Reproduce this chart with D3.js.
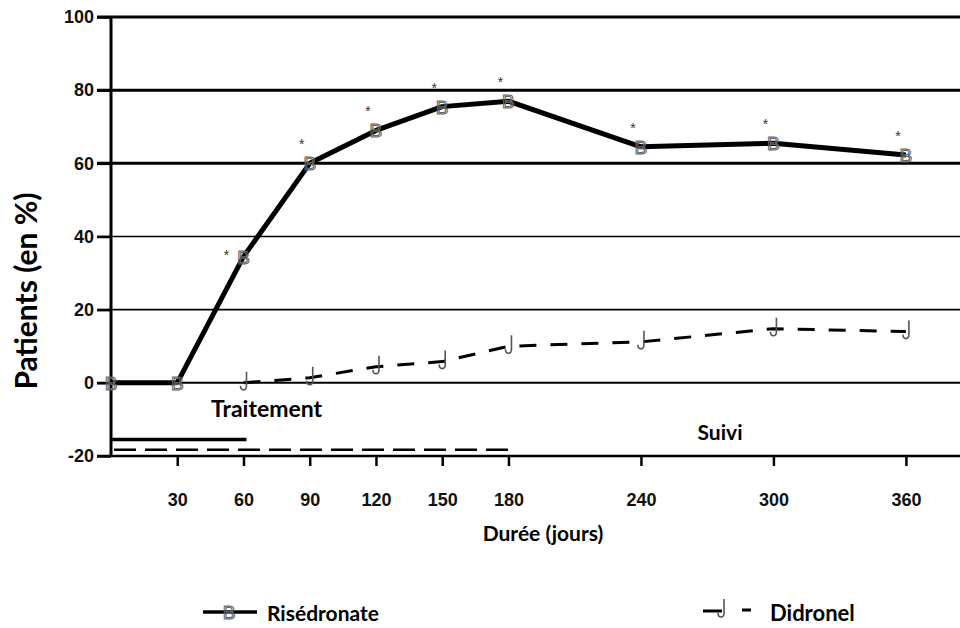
<!DOCTYPE html>
<html>
<head>
<meta charset="utf-8">
<script src="https://cdn.jsdelivr.net/npm/d3@7"></script>
<style>
  body { margin: 0; background: #fff; }
  svg { display: block; }
  .lbl { font-family: Lato, "Open Sans", sans-serif; font-weight: bold; fill: #000; }
</style>
</head>
<body>
<svg id="chart" width="960" height="628"></svg>
<script>
(function() {
    // jours
    var days = [0, 30, 60, 90, 120, 150, 180, 240, 300, 360];
    var risedronate = [0, 0, 34.5, 60, 69, 75.5, 77, 64.5, 65.5, 62.3];
    var starred = [false, false, true, true, true, true, true, true, true, true];
    var didronelDays = [60, 90, 120, 150, 180, 240, 300, 360];
    var didronel = [0, 1.4, 4.4, 5.8, 10, 11.2, 14.8, 14];
    var yTicks = [-20, 0, 20, 40, 60, 80, 100];
    var xTicks = [30, 60, 90, 120, 150, 180, 240, 300, 360];
    // periodes de traitement (jours)
    var treatRis = [0, 60];
    var treatDid = [0, 180];

    var svg = d3.select('#chart');
    var x = d3.scaleLinear().domain([0, 384.5]).range([111, 960]);
    var y = d3.scaleLinear().domain([-20, 100]).range([456, 17]);

    function tickText(sel) {
        sel.attr('fill', '#111')
            .style('font-family', '"Liberation Sans", Arial, sans-serif')
            .style('font-weight', 'bold')
            .style('font-size', '18px');
    }

    // lignes horizontales
    var grid = svg.append('g');
    yTicks.forEach(function(t) {
        if (t === -20) return;
        var w = t >= 60 ? 3 : (t === 0 ? 2 : 1.6);
        grid.append('line')
            .attr('x1', 97).attr('x2', 960)
            .attr('y1', y(t)).attr('y2', y(t))
            .attr('stroke', '#000').attr('stroke-width', w);
    });

    // axe Y
    var yAxis = svg.append('g')
        .attr('transform', 'translate(' + x(0) + ',0)')
        .call(d3.axisLeft(y).tickValues(yTicks).tickFormat(String).tickSize(14).tickPadding(3));
    yAxis.select('.domain').attr('stroke-width', 3).attr('d', 'M0,' + y(100) + 'V' + y(-20));
    yAxis.selectAll('.tick line').attr('stroke-width', 2.5);
    yAxis.selectAll('.tick text').call(tickText);

    // axe X
    var xAxis = svg.append('g')
        .attr('transform', 'translate(0,' + y(-20) + ')')
        .call(d3.axisBottom(x).tickValues(xTicks).tickFormat(String).tickSize(10).tickPadding(27));
    xAxis.select('.domain').attr('stroke-width', 2.5).attr('d', 'M97,0H960');
    xAxis.selectAll('.tick line').attr('stroke-width', 2.5);
    xAxis.selectAll('.tick text').call(tickText);

    // barres de traitement
    svg.append('line')
        .attr('x1', x(treatRis[0])).attr('x2', x(treatRis[1]) + 3)
        .attr('y1', y(-15.5)).attr('y2', y(-15.5))
        .attr('stroke', '#000').attr('stroke-width', 3.5);
    svg.append('line')
        .attr('x1', x(treatDid[0]) + 3).attr('x2', x(treatDid[1]))
        .attr('y1', y(-18.3)).attr('y2', y(-18.3))
        .attr('stroke', '#000').attr('stroke-width', 2.5)
        .attr('stroke-dasharray', '22,9');

    // Didronel
    var didPts = didronelDays.map(function(d, i) { return [d, didronel[i]]; });
    var line = d3.line().x(function(d) { return x(d[0]); }).y(function(d) { return y(d[1]); });
    svg.append('path')
        .datum(didPts)
        .attr('d', line)
        .attr('fill', 'none')
        .attr('stroke', '#000').attr('stroke-width', 3)
        .attr('stroke-dasharray', '17,14');

    function jMarker(g) {
        g.append('path')
            .attr('d', 'M3,-11 L3,3 Q3,7 0,7 Q-3,7 -3,3')
            .attr('fill', 'none').attr('stroke', '#555').attr('stroke-width', 1.6);
    }
    didPts.forEach(function(p) {
        var g = svg.append('g').attr('transform', 'translate(' + x(p[0]) + ',' + y(p[1]) + ')');
        jMarker(g);
    });

    // Risedronate
    var risPts = days.map(function(d, i) { return [d, risedronate[i]]; });
    svg.append('path')
        .datum(risPts)
        .attr('d', line)
        .attr('fill', 'none')
        .attr('stroke', '#000').attr('stroke-width', 5)
        .attr('stroke-linejoin', 'round');

    svg.selectAll('.bm')
        .data(risPts)
        .enter().append('text')
        .attr('class', 'bm')
        .attr('x', function(d) { return x(d[0]); })
        .attr('y', function(d) { return y(d[1]) + 7; })
        .attr('text-anchor', 'middle')
        .style('font-family', '"Liberation Sans", Arial, sans-serif')
        .style('font-size', '19px')
        .attr('fill', 'none').attr('stroke', '#666').attr('stroke-width', 1.1)
        .text('B');

    svg.selectAll('.star')
        .data(risPts.filter(function(d, i) { return starred[i]; }))
        .enter().append('text')
        .attr('class', 'star')
        .attr('x', function(d) { return x(d[0]) - (d[0] === 60 ? 17 : 8); })
        .attr('y', function(d) { return y(d[1]) - (d[0] === 60 ? -3 : 14); })
        .attr('text-anchor', 'middle')
        .style('font-family', '"Liberation Sans", sans-serif')
        .style('font-size', '14px')
        .attr('fill', '#333')
        .text('*');

    // textes
    svg.append('text').attr('class', 'lbl').attr('x', 211).attr('y', 417)
        .style('font-size', '23px').text('Traitement');
    svg.append('text').attr('class', 'lbl').attr('x', 720).attr('y', 440)
        .attr('text-anchor', 'middle').style('font-size', '21px').text('Suivi');
    svg.append('text').attr('class', 'lbl').attr('x', 543).attr('y', 541)
        .attr('text-anchor', 'middle').style('font-size', '21px').text('Durée (jours)');
    svg.append('text').attr('class', 'lbl')
        .attr('transform', 'translate(37,291) rotate(-90)')
        .attr('text-anchor', 'middle').style('font-size', '30px').text('Patients (en %)');

    // legende
    svg.append('line').attr('x1', 203).attr('x2', 257).attr('y1', 612).attr('y2', 612)
        .attr('stroke', '#000').attr('stroke-width', 3.5);
    svg.append('text').attr('x', 229).attr('y', 619).attr('text-anchor', 'middle')
        .style('font-family', '"Liberation Sans", Arial, sans-serif').style('font-size', '19px')
        .attr('fill', 'none').attr('stroke', '#666').attr('stroke-width', 1.1).text('B');
    svg.append('text').attr('class', 'lbl').attr('x', 267).attr('y', 621)
        .style('font-size', '21px').text('Risédronate');

    svg.append('line').attr('x1', 703).attr('x2', 722).attr('y1', 611).attr('y2', 611)
        .attr('stroke', '#000').attr('stroke-width', 3);
    jMarker(svg.append('g').attr('transform', 'translate(721,610)'));
    svg.append('line').attr('x1', 742).attr('x2', 751).attr('y1', 610).attr('y2', 610)
        .attr('stroke', '#000').attr('stroke-width', 3);
    svg.append('text').attr('class', 'lbl').attr('x', 770).attr('y', 621)
        .style('font-size', '22px').text('Didronel');
})();
</script>
</body>
</html>
